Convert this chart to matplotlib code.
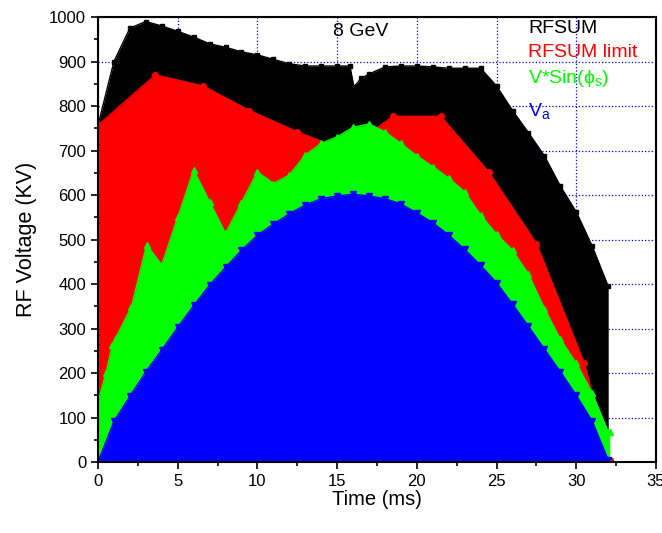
import matplotlib.pyplot as plt
from matplotlib.ticker import MultipleLocator

plt.rcParams['font.family'] = ['Liberation Sans', 'DejaVu Sans']
plt.rcParams['mathtext.fontset'] = 'custom'
plt.rcParams['mathtext.rm'] = 'Liberation Sans'
plt.rcParams['mathtext.it'] = 'Liberation Sans:italic'

# === data ===
t_sum = [0, 1, 2, 3, 4, 5, 6, 7, 8, 9, 10, 11, 12, 13, 14, 15, 15.8, 16.05, 16.5,
         17, 18, 19, 20, 21, 22, 23, 24, 25, 26, 27, 28, 29, 30, 31, 32]
rfsum = [757, 900, 975, 990, 980, 968, 955, 940, 932, 922, 915, 905, 895, 890, 890, 890, 890, 843, 862,
         872, 888, 890, 890, 888, 885, 885, 885, 845, 790, 740, 688, 620, 562, 485, 395]

t_lim = [0, 3.6, 6.6, 9.5, 12.5, 15.5, 18.5, 21.5, 24.5, 27.5, 30.5, 32.1]
rfsum_lim = [757, 870, 845, 790, 742, 700, 777, 777, 652, 491, 222, 5]

t_vs = [0, 0.5, 0.9, 1.1, 2.1, 3.05, 4, 5, 6, 7, 8, 9, 10, 11, 12, 13, 14, 15, 16, 17,
        18, 19, 20, 21, 22, 23, 24, 25, 26, 27, 28, 29, 30, 31, 32, 32.1]
vsin = [135, 200, 263, 278, 349, 488, 443, 550, 656, 585, 514, 583, 652, 626, 645, 690, 716, 731, 752, 760,
        742, 716, 688, 664, 638, 607, 555, 512, 476, 422, 345, 276, 222, 155, 68, 68]

t_va = [0, 1, 2, 3, 4, 5, 6, 7, 8, 9, 10, 11, 12, 13, 14, 15, 16, 17,
        18, 19, 20, 21, 22, 23, 24, 25, 26, 27, 28, 29, 30, 31, 32]
va = [0, 92, 148, 203, 252, 303, 352, 398, 438, 476, 510, 535, 558, 578, 592, 598, 602, 598,
      592, 580, 560, 538, 510, 478, 442, 403, 355, 305, 254, 203, 150, 92, 5]

fig, ax = plt.subplots(figsize=(6.62, 5.33), dpi=100)
fig.subplots_adjust(left=0.148, right=0.991, bottom=0.133, top=0.968)

ax.fill_between(t_sum + [32], rfsum + [0], 0, color='black', lw=0, zorder=2)
ax.plot(t_sum, rfsum, color='black', marker='s', ms=3, lw=1, zorder=2)
ax.fill_between(t_lim, rfsum_lim, 0, color='red', lw=0, zorder=3)
ax.plot(t_lim, rfsum_lim, color='red', marker='o', ms=4, lw=1, zorder=3)
ax.fill_between(t_vs + [32.1], vsin + [0], 0, color='#00ff00', lw=0, zorder=4)
ax.plot(t_vs, vsin, color='#00ff00', marker='^', ms=5, lw=1, zorder=4)
ax.fill_between(t_va, va, 0, color='#0000ff', lw=0, zorder=5)
ax.plot(t_va, va, color='#0000ff', marker='v', ms=4, lw=1, zorder=5)

ax.set_xlim(0, 35)
ax.set_ylim(0, 1000)
ax.xaxis.set_major_locator(MultipleLocator(5))
ax.xaxis.set_minor_locator(MultipleLocator(2.5))
ax.yaxis.set_major_locator(MultipleLocator(100))
ax.yaxis.set_minor_locator(MultipleLocator(50))
ax.tick_params(which='major', direction='out', length=5, width=1.2, labelsize=12)
ax.tick_params(which='minor', direction='out', length=3, width=1.2)
ax.grid(True, color='#0000ff', linestyle=':', linewidth=0.9, zorder=0)
ax.set_axisbelow(True)
for s in ax.spines.values():
    s.set_linewidth(1.5)
    s.set_zorder(6)

ax.set_xlabel('Time (ms)', fontsize=14.5, labelpad=1)
ax.set_ylabel('RF Voltage (KV)', fontsize=15.5, labelpad=9)

ax.text(16.5, 968, '8 GeV', fontsize=14, ha='center', va='center', zorder=7)
ax.text(27.0, 975, 'RFSUM', fontsize=14, color='black', va='center', zorder=7)
ax.text(27.0, 921, 'RFSUM limit', fontsize=14, color='red', va='center', zorder=7)
ax.text(27.0, 862, r'V*Sin($\mathrm{ϕ}_\mathrm{s}$)', fontsize=14, color='#00ff00', va='center', zorder=7)
ax.text(27.0, 790, r'V$_\mathrm{a}$', fontsize=14, color='#0000ff', va='center', zorder=7)

fig.savefig('out.png', dpi=100)
